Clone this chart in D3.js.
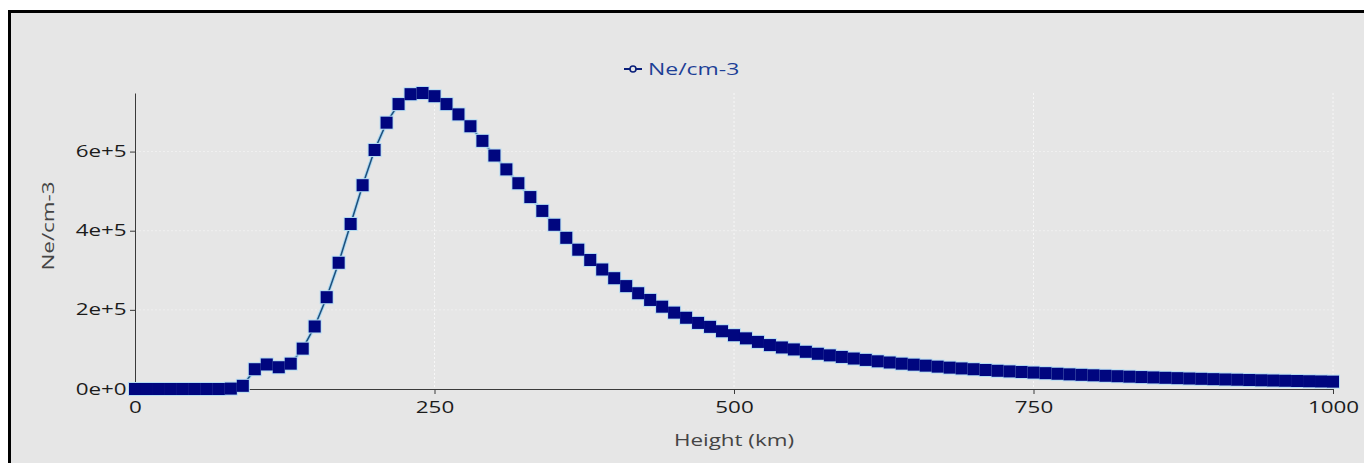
<!DOCTYPE html>
<html>
<head>
<meta charset="utf-8">
<script src="https://cdn.jsdelivr.net/npm/d3@7"></script>
<style>
  html, body { margin: 0; padding: 0; background: #ffffff; }
  svg { display: block; font-family: "Open Sans", sans-serif; }
</style>
</head>
<body>
<script>
// heights (km) of the profile points
var heights = [
  0, 10, 20, 30, 40, 50, 60, 70, 80, 90,
  100, 110, 120, 130, 140, 150, 160, 170, 180, 190,
  200, 210, 220, 230, 240, 250, 260, 270, 280, 290,
  300, 310, 320, 330, 340, 350, 360, 370, 380, 390,
  400, 410, 420, 430, 440, 450, 460, 470, 480, 490,
  500, 510, 520, 530, 540, 550, 560, 570, 580, 590,
  600, 610, 620, 630, 640, 650, 660, 670, 680, 690,
  700, 710, 720, 730, 740, 750, 760, 770, 780, 790,
  800, 810, 820, 830, 840, 850, 860, 870, 880, 890,
  900, 910, 920, 930, 940, 950, 960, 970, 980, 990,
  1000
];
// electron density (cm-3)
var density = [
  0, 0, 0, 0, 0, 0, 0, 0, 1000, 8000,
  50000, 62000, 55000, 64000, 102000, 158000, 232000, 319000, 417000, 515000,
  604000, 673000, 720000, 745000, 748000, 740000, 720000, 694000, 664000, 627000,
  590000, 555000, 520000, 485000, 450000, 415000, 382000, 352000, 326000, 302000,
  280000, 260000, 242000, 225000, 208000, 193000, 180000, 167000, 157000, 146000,
  136000, 128000, 119000, 111000, 105000, 100000, 94000, 89000, 85000, 81000,
  77000, 73500, 70000, 67000, 64000, 61500, 59000, 56500, 54000, 52000,
  50000, 48000, 46000, 44500, 43000, 41500, 40000, 38500, 37000, 35800,
  34600, 33400, 32300, 31200, 30200, 29200, 28300, 27400, 26500, 25700,
  24900, 24100, 23400, 22700, 22000, 21400, 20800, 20200, 19600, 19100,
  18600
];
var xTicks = [0, 250, 500, 750, 1000];
var yTicks = [0, 200000, 400000, 600000];
var yTickLabels = ['0e+0', '2e+5', '4e+5', '6e+5'];
var seriesName = 'Ne/cm-3';
var xTitle = 'Height (km)';
var yTitle = 'Ne/cm-3';

var svgWidth = 1364;
var svgHeight = 463;
var plotLeft = 135;
var plotRight = 1333;
var plotTop = 93;
var plotBottom = 389;
var stretch = 1.4; // the text in the picture is drawn wide

var data = heights.map(function(h, i) { return [h, density[i]]; });

var xScale = d3.scaleLinear()
    .domain([0, 1000])
    .range([plotLeft, plotRight]);

var yScale = d3.scaleLinear()
    .domain([0, d3.max(density)])
    .range([plotBottom, plotTop]);

var svg = d3.select('body').append('svg')
    .attr('width', svgWidth)
    .attr('height', svgHeight);

// panel + frame
svg.append('rect')
    .attr('x', 9.5).attr('y', 11.5)
    .attr('width', svgWidth + 20).attr('height', svgHeight + 20)
    .attr('fill', '#e6e6e6')
    .attr('stroke', '#000').attr('stroke-width', 3);

// grid
svg.append('g').selectAll('line')
    .data(xTicks.slice(1))
    .enter().append('line')
    .attr('x1', function(d) { return xScale(d); })
    .attr('x2', function(d) { return xScale(d); })
    .attr('y1', plotTop).attr('y2', plotBottom)
    .attr('stroke', '#f7f7f7').attr('stroke-width', 1)
    .attr('stroke-dasharray', '2,2');

svg.append('g').selectAll('line')
    .data(yTicks.slice(1))
    .enter().append('line')
    .attr('x1', plotLeft).attr('x2', plotRight)
    .attr('y1', function(d) { return yScale(d); })
    .attr('y2', function(d) { return yScale(d); })
    .attr('stroke', '#f0f0f0').attr('stroke-width', 1)
    .attr('stroke-dasharray', '2,2');

// axes
var xAxis = d3.axisBottom(xScale)
    .tickValues(xTicks)
    .tickFormat(d3.format('d'))
    .tickSizeInner(5)
    .tickSizeOuter(0)
    .tickPadding(8);

var gx = svg.append('g')
    .attr('transform', 'translate(0,' + plotBottom + ')')
    .call(xAxis);

var yAxis = d3.axisLeft(yScale)
    .tickValues(yTicks)
    .tickFormat(function(d, i) { return yTickLabels[i]; })
    .tickSizeInner(5)
    .tickSizeOuter(0)
    .tickPadding(5);

var gy = svg.append('g')
    .attr('transform', 'translate(' + plotLeft + ',0)')
    .call(yAxis);

[gx, gy].forEach(function(g) {
    g.select('.domain').attr('stroke', '#3a3a3a');
    g.selectAll('.tick line').attr('stroke', '#3a3a3a');
    g.selectAll('.tick text')
        .attr('fill', '#1c1c1c')
        .style('font-size', '16px')
        .style('font-family', '"Open Sans", sans-serif');
});
gx.selectAll('.tick text').attr('transform', 'scale(' + stretch + ',1)');
gy.selectAll('.tick text')
    .attr('x', -6)
    .attr('transform', 'scale(' + stretch + ',1)');

// axis titles
svg.append('text')
    .attr('transform', 'translate(734,446) scale(' + stretch + ',1)')
    .attr('text-anchor', 'middle')
    .attr('fill', '#444')
    .style('font-size', '16px')
    .text(xTitle);

svg.append('text')
    .attr('transform', 'translate(54,226) rotate(-90) scale(' + stretch + ',1)')
    .attr('text-anchor', 'middle')
    .attr('fill', '#444')
    .style('font-size', '16px')
    .text(yTitle);

// series line
var line = d3.line()
    .x(function(d) { return xScale(d[0]); })
    .y(function(d) { return yScale(d[1]); });

svg.append('path')
    .datum(data)
    .attr('fill', 'none')
    .attr('stroke', '#a9d6f0')
    .attr('stroke-width', 3.5)
    .attr('d', line);

svg.append('path')
    .datum(data)
    .attr('fill', 'none')
    .attr('stroke', '#1d4f7c')
    .attr('stroke-width', 1.5)
    .attr('d', line);

// markers: light halo layer first, then the dark squares on top
var ms = 12;
svg.append('g').selectAll('rect')
    .data(data)
    .enter().append('rect')
    .attr('x', function(d) { return xScale(d[0]) - ms / 2 - 1; })
    .attr('y', function(d) { return yScale(d[1]) - ms / 2 - 1; })
    .attr('width', ms + 2).attr('height', ms + 2)
    .attr('fill', '#b4dcf2');

svg.append('g').selectAll('rect')
    .data(data)
    .enter().append('rect')
    .attr('x', function(d) { return xScale(d[0]) - ms / 2; })
    .attr('y', function(d) { return yScale(d[1]) - ms / 2; })
    .attr('width', ms).attr('height', ms)
    .attr('fill', '#00067f');

// legend
var lg = svg.append('g').attr('transform', 'translate(624,69)');
lg.append('line')
    .attr('x1', 0).attr('x2', 18)
    .attr('y1', 0).attr('y2', 0)
    .attr('stroke', '#0a1f7a').attr('stroke-width', 2);
lg.append('circle')
    .attr('cx', 9).attr('cy', 0).attr('r', 3)
    .attr('fill', '#e6e6e6')
    .attr('stroke', '#0a1f7a').attr('stroke-width', 1.6);
lg.append('text')
    .attr('transform', 'translate(24,5.5) scale(1.35,1)')
    .attr('fill', '#1d3f96')
    .style('font-size', '17px')
    .text(seriesName);
</script>
</body>
</html>
